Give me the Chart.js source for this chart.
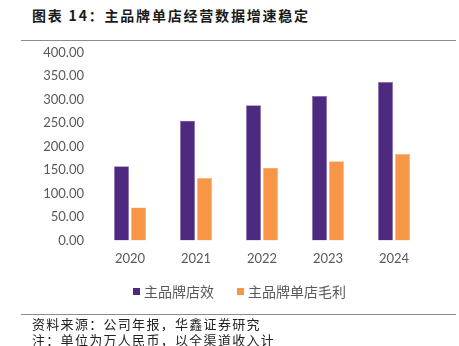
<!DOCTYPE html>
<html>
<head>
<meta charset="utf-8">
<script src="https://cdn.jsdelivr.net/npm/chart.js@4.4.1/dist/chart.umd.min.js"></script>
<style>
  html, body { margin: 0; padding: 0; background: #fff; }
  body { width: 459px; height: 346px; position: relative; overflow: hidden; }
  .title {
    position: absolute; left: 32px; top: 5px;
    font: bold 14px "Noto Sans CJK SC", sans-serif; color: #1a1a1a;
    letter-spacing: 1.8px;
  }
  .rule { position: absolute; left: 21px; width: 435px; height: 1px; background: #8c8c8c; }
  .source {
    position: absolute; left: 32px;
    font: 13px "Noto Sans CJK SC", sans-serif; color: #222; line-height: 16px;
    letter-spacing: 1.3px;
  }
  #wrap { position: absolute; left: 0; top: 32px; width: 459px; height: 280px; }
  #legend {
    position: absolute; left: 133px; top: 281px; display: flex; gap: 23px;
    font: 14px "Noto Sans CJK SC", sans-serif; color: #595959; line-height: 20px;
  }
  #legend span.item { display: flex; align-items: center; }
  #legend i { display: inline-block; width: 7px; height: 7px; margin-right: 4px; }
</style>
</head>
<body>
<div class="title">图表 14：主品牌单店经营数据增速稳定</div>
<div class="rule" style="top:40px"></div>
<div id="wrap"><canvas id="chart"></canvas></div>
<div id="legend"></div>
<div class="rule" style="top:314px"></div>
<div class="source" style="top:316px">资料来源：公司年报，华鑫证券研究<br>注：单位为万人民币，以全渠道收入计</div>
<script>
// 年份与两组数据（万元）
const years = ['2020', '2021', '2022', '2023', '2024'];
const storeEfficiency = [158, 255, 288, 308, 338];
const storeGrossProfit = [70, 133, 155, 169, 184];
const seriesNames = ['主品牌店效', '主品牌单店毛利'];
const seriesColors = ['#4D2A80', '#F79646'];

const ctx = document.getElementById('chart');
const chart = new Chart(ctx, {
  type: 'bar',
  data: {
    labels: years,
    datasets: [
      {
        label: seriesNames[0],
        data: storeEfficiency,
        backgroundColor: seriesColors[0],
        borderColor: '#8f78b5',
        borderWidth: 0.5
      },
      {
        label: seriesNames[1],
        data: storeGrossProfit,
        backgroundColor: seriesColors[1],
        borderColor: '#f9b27a',
        borderWidth: 0.5
      }
    ]
  },
  options: {
    responsive: true,
    maintainAspectRatio: false,
    animation: false,
    categoryPercentage: 0.515,
    barPercentage: 0.88,
    layout: { padding: { left: 40, right: 32, top: 0, bottom: 34 } },
    plugins: {
      tooltip: { enabled: false },
      legend: { display: false }
    },
    scales: {
      x: {
        grid: { display: false, drawTicks: false },
        border: { display: false },
        ticks: {
          color: '#595959',
          padding: 11,
          font: { family: 'Lato, "Open Sans", sans-serif', size: 13 }
        }
      },
      y: {
        min: 0,
        max: 400,
        afterFit: (s) => { s.width = 57; },
        grid: { display: false, drawTicks: false },
        border: { display: false },
        ticks: {
          stepSize: 50,
          color: '#595959',
          padding: 13,
          font: { family: 'Lato, "Open Sans", sans-serif', size: 13 },
          callback: (v) => Number(v).toFixed(2)
        }
      }
    }
  }
});

// 图例：用数据集的名称和颜色生成
const legendEl = document.getElementById('legend');
chart.data.datasets.forEach((ds) => {
  const item = document.createElement('span');
  item.className = 'item';
  const box = document.createElement('i');
  box.style.background = ds.backgroundColor;
  item.appendChild(box);
  item.appendChild(document.createTextNode(ds.label));
  legendEl.appendChild(item);
});
</script>
</body>
</html>
